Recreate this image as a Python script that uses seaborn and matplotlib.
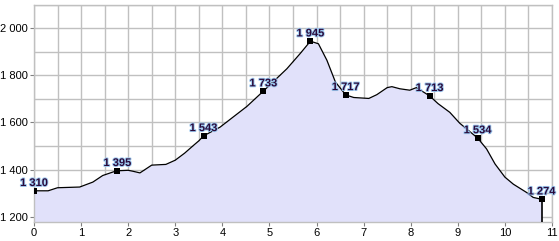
import matplotlib
matplotlib.use("Agg")
import matplotlib.pyplot as plt
import matplotlib.patheffects as pe
from matplotlib.ticker import MultipleLocator, FuncFormatter
import seaborn as sns
import pandas as pd

# distance (km) and elevation (m) of the profile
dist = [0.0, 0.3, 0.5, 0.97, 1.25, 1.46, 1.68, 1.77, 2.0, 2.1, 2.25, 2.5, 2.8, 3.0,
        3.2, 3.4, 3.5, 3.6, 3.95, 4.52, 4.87, 5.37, 5.65, 5.87, 6.04, 6.22, 6.4,
        6.62, 6.79, 7.11, 7.28, 7.5, 7.6, 7.77, 7.98, 8.12, 8.4, 8.58, 8.83, 9.04,
        9.42, 9.61, 9.79, 10.0, 10.18, 10.46, 10.6, 10.78]
elev = [1310, 1310, 1323, 1326, 1347, 1375, 1390, 1395, 1397, 1393, 1386, 1419, 1422, 1440,
        1470, 1505, 1522, 1543, 1580, 1668, 1733, 1828, 1892, 1945, 1934, 1864, 1772,
        1717, 1706, 1702, 1718, 1748, 1752, 1743, 1737, 1748, 1713, 1680, 1643, 1597,
        1534, 1488, 1424, 1368, 1338, 1303, 1282, 1274]

# labelled waypoints
mark_dist = [0.0, 1.77, 3.6, 4.87, 5.87, 6.62, 8.4, 9.42, 10.78]
mark_elev = [1310, 1395, 1543, 1733, 1945, 1717, 1713, 1534, 1274]
mark_text = ["1 310", "1 395", "1 543", "1 733", "1 945", "1 717", "1 713", "1 534", "1 274"]

x_ticks = list(range(0, 12))
y_ticks = [1200, 1400, 1600, 1800, 2000]

sns.set_style("white")
plt.rcParams['font.family'] = ['Liberation Sans', 'DejaVu Sans']

fig = plt.figure(figsize=(5.59, 2.41), dpi=100)
ax = fig.add_axes([34/559, 1 - 221.67/241, (552 - 34)/559, (221.67 - 4.67)/241])

ymin, ymax = 1179, 2100
df = pd.DataFrame({"dist": dist, "elev": elev})

ax.fill_between(df["dist"], df["elev"], ymin, color="#e1e1fa", lw=0, zorder=1)
sns.lineplot(data=df, x="dist", y="elev", ax=ax, color="black", lw=0.9, zorder=3,
             estimator=None, sort=False)
ax.vlines(dist[-1], ymin, elev[-1], color="black", lw=1.2, zorder=3)

sns.scatterplot(x=mark_dist, y=mark_elev, ax=ax, marker="s", s=14, color="black",
                edgecolor="black", linewidth=0, zorder=4)
for xd, yd, t in zip(mark_dist, mark_elev, mark_text):
    ax.annotate(t, (xd, yd), xytext=(0, 2), textcoords="offset points",
                ha="center", va="bottom", fontsize=8, color="#2a0a3a",
                fontweight="bold", clip_on=False, zorder=5,
                path_effects=[pe.withStroke(linewidth=1.3, foreground="#9cc8f0")])

ax.set_xlim(0, 11)
ax.set_ylim(ymin, ymax)
ax.set_xticks(x_ticks)
ax.set_yticks(y_ticks)
ax.xaxis.set_minor_locator(MultipleLocator(0.5))
ax.yaxis.set_minor_locator(MultipleLocator(100))
ax.yaxis.set_major_formatter(FuncFormatter(lambda v, p: f"{int(v):,}".replace(",", " ")))
ax.grid(True, which="both", color="#c0c0c0", lw=1, zorder=0)
ax.set_axisbelow(True)
ax.tick_params(which="major", length=3, width=0.8, color="#808080", labelsize=8,
               labelcolor="black", pad=1.5, left=True, bottom=True)
ax.tick_params(which="minor", length=0)
for s in ax.spines.values():
    s.set_color("#c0c0c0")
    s.set_linewidth(1)
ax.set_xlabel("")
ax.set_ylabel("")

fig.savefig("out.png", dpi=100)
